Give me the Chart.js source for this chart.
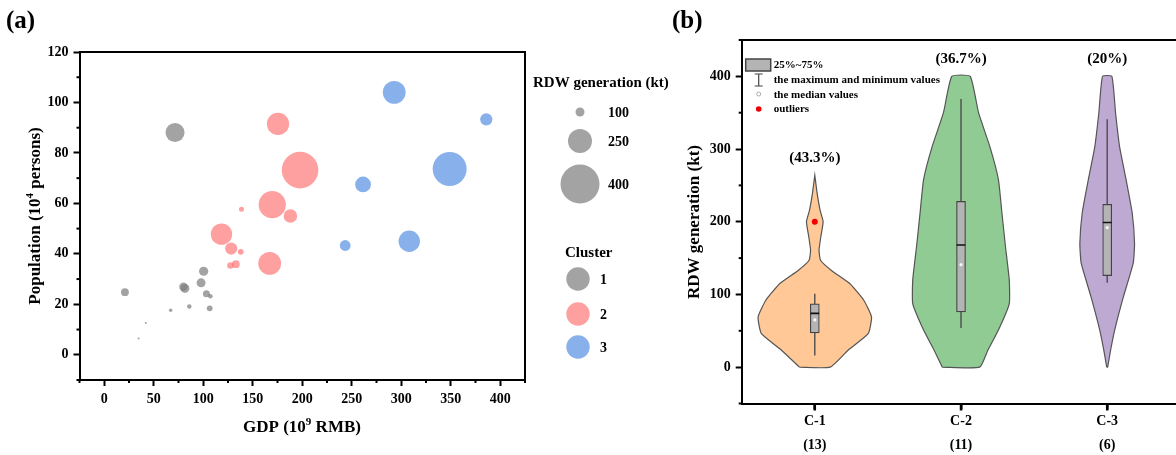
<!DOCTYPE html>
<html>
<head>
<meta charset="utf-8">
<script src="https://cdn.jsdelivr.net/npm/chart.js@4.4.1/dist/chart.umd.min.js"></script>
<style>
  html, body { margin: 0; padding: 0; background: #fff; overflow: hidden; }
  body { width: 1176px; height: 455px; position: relative; }
  #chartA { position: absolute; left: 0; top: 0; }
  #chartB { position: absolute; left: 640px; top: 0; }
</style>
</head>
<body>
<canvas id="chartA" width="700" height="455"></canvas>
<canvas id="chartB" width="560" height="455"></canvas>
<script>
// --- Panel (a) data: GDP (10^9 RMB), population (10^4 persons), RDW generation (kt) ---
const gdpC1 = [71.5, 20.9, 80, 81.5, 100.4, 97.8, 103.2, 107.2, 106.5, 85.9, 67.1, 41.9, 34.7];
const popC1 = [88.1, 24.8, 27, 26.3, 33.1, 28.5, 24.2, 23.2, 18.4, 19.1, 17.6, 12.6, 6.4];
const rdwC1 = [200, 88, 95, 100, 102, 100, 80, 55, 68, 55, 45, 25, 17];

const gdpC2 = [175.5, 197.8, 169.7, 188, 138.6, 118.4, 128.2, 137.9, 167.1, 132.9, 127.4];
const popC2 = [91.5, 73.2, 59.5, 55, 57.7, 47.8, 42.1, 40.8, 36.2, 35.9, 35.4];
const rdwC2 = [232, 376, 282, 146, 60, 224, 132, 68, 238, 88, 74];

const gdpC3 = [292.9, 385.9, 348.9, 261.4, 308.1, 243.4];
const popC3 = [104, 93.3, 73.6, 67.5, 45, 43.3];
const rdwC3 = [238, 132, 350, 168, 224, 118];

const gdpTicks = [0, 50, 100, 150, 200, 250, 300, 350, 400];
const popTicks = [0, 20, 40, 60, 80, 100, 120];
const sizeKeys = [100, 250, 400];
const clusterNames = ["1", "2", "3"];

// --- Panel (b) data: violin outlines (RDW level, half width in category units) ---
const groups = ["C-1", "C-2", "C-3"];
const groupCounts = ["(13)", "(11)", "(6)"];
const groupShares = ["(43.3%)", "(36.7%)", "(20%)"];
const rdwTicks = [0, 100, 200, 300, 400];

const c1Levels = [0, 23, 46, 69, 92, 115, 133, 147, 161, 179, 200, 216, 239, 264];
const c1Widths = [0.105, 0.226, 0.365, 0.388, 0.335, 0.239, 0.114, 0.039, 0.029, 0.041, 0.057, 0.036, 0.016, 0.0];
const c2Levels = [0, 23, 51, 87, 120, 166, 212, 258, 303, 350, 400];
const c2Widths = [0.128, 0.183, 0.256, 0.33, 0.33, 0.304, 0.28, 0.256, 0.198, 0.12, 0.063];
const c3Levels = [0, 23, 51, 97, 143, 170, 212, 258, 303, 350, 400];
const c3Widths = [0.003, 0.023, 0.051, 0.111, 0.178, 0.187, 0.171, 0.129, 0.085, 0.057, 0.032];

const boxMin = [16, 54, 116];
const boxQ1 = [47, 76, 126];
const boxMed = [74, 168, 199];
const boxQ3 = [87, 228, 224];
const boxMax = [101, 369, 341];
const medianDots = [65, 141, 192];
const outlierC1 = [200];

const FONT = "'Liberation Serif', 'Times New Roman', serif";
Chart.defaults.font.family = FONT;
Chart.defaults.font.weight = "bold";
Chart.defaults.color = "#000";

const GRAY = "rgba(124,124,124,0.7)";
const RED = "rgba(255,97,97,0.6)";
const BLUE = "rgba(85,142,225,0.7)";

// bubble radius from RDW value (kt)
const bubbleR = (v) => Math.max(1, v / 20 - 0.5);

function bubbles(gdp, pop, rdw, color) {
  return {
    data: gdp.map((g, i) => ({ x: g, y: pop[i], r: bubbleR(rdw[i]) })),
    backgroundColor: color,
    borderWidth: 0,
    hoverRadius: 0,
  };
}

// --- helpers ---
function richText(ctx, parts, x, y, size, rotate) {
  ctx.save();
  ctx.translate(x, y);
  if (rotate) ctx.rotate(-Math.PI / 2);
  const base = `bold ${size}px ${FONT}`;
  const sup = `bold ${Math.round(size * 0.62)}px ${FONT}`;
  let w = 0;
  parts.forEach((p) => {
    ctx.font = p.sup ? sup : base;
    w += ctx.measureText(p.t).width;
  });
  let cx = -w / 2;
  ctx.textBaseline = "middle";
  ctx.textAlign = "left";
  ctx.fillStyle = "#000";
  parts.forEach((p) => {
    ctx.font = p.sup ? sup : base;
    ctx.fillText(p.t, cx, p.sup ? -size * 0.32 : 0);
    cx += ctx.measureText(p.t).width;
  });
  ctx.restore();
}

function text(ctx, str, x, y, size, align) {
  ctx.save();
  ctx.font = `bold ${size}px ${FONT}`;
  ctx.fillStyle = "#000";
  ctx.textAlign = align || "left";
  ctx.textBaseline = "middle";
  ctx.fillText(str, x, y);
  ctx.restore();
}

// short tick marks at given values, outside the plot area
function tickMarks(chart, axis, vals, len, width) {
  const s = chart.scales[axis];
  const ctx = chart.ctx;
  const a = chart.chartArea;
  ctx.save();
  ctx.strokeStyle = "#000";
  ctx.lineWidth = width || 2;
  vals.forEach((v) => {
    if (v < s.min || v > s.max) return;
    const p = s.getPixelForValue(v);
    ctx.beginPath();
    if (axis === "x") {
      ctx.moveTo(p, a.bottom);
      ctx.lineTo(p, a.bottom + len);
    } else {
      ctx.moveTo(a.left, p);
      ctx.lineTo(a.left - len, p);
    }
    ctx.stroke();
  });
  ctx.restore();
}

function minorTicks(chart, axis, majors, len) {
  const step = majors[1] - majors[0];
  const vals = [majors[0] - step / 2];
  majors.forEach((m) => vals.push(m + step / 2));
  tickMarks(chart, axis, vals, len);
}

function frame(chart) {
  const ctx = chart.ctx;
  const a = chart.chartArea;
  ctx.save();
  ctx.strokeStyle = "#000";
  ctx.lineWidth = 2;
  ctx.beginPath();
  ctx.moveTo(a.left, a.top);
  ctx.lineTo(a.right, a.top);
  ctx.lineTo(a.right, a.bottom);
  ctx.stroke();
  ctx.restore();
}

const axisStyle = {
  grid: { drawOnChartArea: false, drawTicks: true, tickLength: 6, tickWidth: 2, tickColor: "#000", offset: false },
  border: { display: true, width: 2, color: "#000" },
};

// --- Panel (a) decorations ---
const decorA = {
  id: "decorA",
  afterDraw(chart) {
    const ctx = chart.ctx;
    frame(chart);
    minorTicks(chart, "x", gdpTicks, 3);
    minorTicks(chart, "y", popTicks, 3);
    text(ctx, "(a)", 6, 22, 25);
    richText(ctx, [{ t: "Population (10" }, { t: "4", sup: true }, { t: " persons)" }], 36, 216, 17, true);
    richText(ctx, [{ t: "GDP (10" }, { t: "9", sup: true }, { t: " RMB)" }], 302, 428, 17, false);

    // size legend
    text(ctx, "RDW generation (kt)", 533, 83, 15);
    const keyY = [112, 141, 184];
    sizeKeys.forEach((v, i) => {
      ctx.beginPath();
      ctx.fillStyle = GRAY;
      ctx.arc(580, keyY[i], bubbleR(v), 0, Math.PI * 2);
      ctx.fill();
      text(ctx, String(v), 608, keyY[i] + 1, 14);
    });

    // cluster legend
    text(ctx, "Cluster", 565, 253, 15);
    const cols = [GRAY, RED, BLUE];
    const cy = [279, 314, 347];
    clusterNames.forEach((n, i) => {
      ctx.beginPath();
      ctx.fillStyle = cols[i];
      ctx.arc(578, cy[i], 11.7, 0, Math.PI * 2);
      ctx.fill();
      text(ctx, n, 600, cy[i] + 1, 14);
    });
  },
};

new Chart(document.getElementById("chartA"), {
  type: "bubble",
  data: {
    datasets: [
      bubbles(gdpC1, popC1, rdwC1, GRAY),
      bubbles(gdpC2, popC2, rdwC2, RED),
      bubbles(gdpC3, popC3, rdwC3, BLUE),
    ],
  },
  options: {
    responsive: false,
    animation: false,
    layout: { padding: { top: 52, right: 175, left: 0, bottom: 0 } },
    plugins: { legend: { display: false }, tooltip: { enabled: false } },
    scales: {
      x: {
        type: "linear",
        min: -25,
        max: 425,
        afterBuildTicks: (s) => { s.ticks = gdpTicks.map((v) => ({ value: v })); },
        afterFit: (s) => { s.height = 75; },
        ticks: { font: { size: 14, weight: "bold" }, color: "#000", padding: 5, maxRotation: 0 },
        ...axisStyle,
      },
      y: {
        type: "linear",
        min: -10,
        max: 120,
        afterBuildTicks: (s) => { s.ticks = popTicks.map((v) => ({ value: v })); },
        afterFit: (s) => { s.width = 79.5; },
        ticks: { font: { size: 14, weight: "bold" }, color: "#000", padding: 5 },
        ...axisStyle,
      },
    },
  },
  plugins: [decorA],
});

// --- Panel (b) ---
function violin(center, levels, widths, color) {
  const left = levels.map((v, i) => ({ x: center - widths[i], y: v }));
  const right = levels.map((v, i) => ({ x: center + widths[i], y: v })).reverse();
  const pts = left.concat(right);
  pts.push(left[0]);
  return {
    type: "line",
    data: pts,
    backgroundColor: color,
    borderColor: "#555",
    borderWidth: 1.2,
    fill: "shape",
    tension: 0.15,
    pointRadius: 0,
    order: 5,
  };
}

const BOX_HALF = 0.03;
const whiskerPts = [];
const medianPts = [];
groups.forEach((g, i) => {
  const c = i + 1;
  whiskerPts.push({ x: c, y: boxMin[i] }, { x: c, y: boxMax[i] }, { x: c, y: null });
  medianPts.push({ x: c - BOX_HALF, y: boxMed[i] }, { x: c + BOX_HALF, y: boxMed[i] }, { x: c, y: null });
});

const decorB = {
  id: "decorB",
  afterDraw(chart) {
    const ctx = chart.ctx;
    const a = chart.chartArea;
    const xs = chart.scales.x;
    const ys = chart.scales.y;
    frame(chart);
    minorTicks(chart, "y", rdwTicks, 3);
    tickMarks(chart, "x", groups.map((g, i) => i + 1), 7, 2.5);
    text(ctx, "(b)", 32, 22, 25);
    richText(ctx, [{ t: "RDW generation (kt)" }], 55, 222, 17, true);

    // share labels above each violin
    const tops = [c1Levels, c2Levels, c3Levels].map((l) => l[l.length - 1]);
    groupShares.forEach((s, i) => {
      text(ctx, s, xs.getPixelForValue(i + 1), ys.getPixelForValue(tops[i]) - 17, 15, "center");
    });

    // legend box
    const lx = a.left + 4;
    ctx.save();
    ctx.fillStyle = "#b4b4b4";
    ctx.strokeStyle = "#444";
    ctx.lineWidth = 1.5;
    ctx.fillRect(lx, 59, 25, 12);
    ctx.strokeRect(lx, 59, 25, 12);
    const ix = lx + 13;
    ctx.lineWidth = 1.2;
    ctx.beginPath();
    ctx.moveTo(ix - 4, 74); ctx.lineTo(ix + 4, 74);
    ctx.moveTo(ix, 74); ctx.lineTo(ix, 86);
    ctx.moveTo(ix - 4, 86); ctx.lineTo(ix + 4, 86);
    ctx.stroke();
    ctx.beginPath();
    ctx.fillStyle = "#fff";
    ctx.strokeStyle = "#999";
    ctx.lineWidth = 0.8;
    ctx.arc(ix, 94, 2, 0, Math.PI * 2);
    ctx.fill();
    ctx.stroke();
    ctx.beginPath();
    ctx.fillStyle = "#e00";
    ctx.arc(ix, 109, 2.8, 0, Math.PI * 2);
    ctx.fill();
    ctx.restore();
    text(ctx, "25%~75%", lx + 28, 65, 11);
    text(ctx, "the maximum and minimum values", lx + 28, 80, 11);
    text(ctx, "the median values", lx + 28, 95, 11);
    text(ctx, "outliers", lx + 28, 109, 11);
  },
};

new Chart(document.getElementById("chartB"), {
  type: "line",
  data: {
    datasets: [
      violin(1, c1Levels, c1Widths, "#ffc896"),
      violin(2, c2Levels, c2Widths, "#90cb94"),
      violin(3, c3Levels, c3Widths, "#bea9d2"),
      {
        type: "line",
        data: whiskerPts,
        borderColor: "#444",
        borderWidth: 1.3,
        pointRadius: 0,
        spanGaps: false,
        fill: false,
        order: 4,
      },
      {
        type: "bar",
        data: groups.map((g, i) => ({ x: i + 1, y: [boxQ1[i], boxQ3[i]] })),
        backgroundColor: "#b4b4b4",
        borderColor: "#444",
        borderWidth: 1.2,
        borderSkipped: false,
        barThickness: 9,
        grouped: false,
        order: 3,
      },
      {
        type: "line",
        data: medianPts,
        borderColor: "#111",
        borderWidth: 1.6,
        pointRadius: 0,
        spanGaps: false,
        fill: false,
        order: 2,
      },
      {
        type: "scatter",
        data: medianDots.map((v, i) => ({ x: i + 1, y: v })),
        pointRadius: 1.6,
        pointBackgroundColor: "#fff",
        pointBorderColor: "#ccc",
        pointBorderWidth: 0.5,
        order: 1,
      },
      {
        type: "scatter",
        data: outlierC1.map((v) => ({ x: 1, y: v })),
        pointRadius: 3,
        pointBackgroundColor: "#e00",
        pointBorderWidth: 0,
        order: 0,
      },
    ],
  },
  options: {
    responsive: false,
    animation: false,
    layout: { padding: { top: 40, right: 19.7, left: 0, bottom: 0 } },
    plugins: { legend: { display: false }, tooltip: { enabled: false } },
    scales: {
      x: {
        type: "linear",
        min: 0.5,
        max: 3.5,
        offset: false,
        afterBuildTicks: (s) => { s.ticks = groups.map((g, i) => ({ value: i + 1 })); },
        afterFit: (s) => { s.height = 51.5; },
        ticks: {
          font: { size: 14, weight: "bold", lineHeight: 1.72 },
          color: "#000",
          padding: 0,
          maxRotation: 0,
          callback: (v) => [groups[v - 1], groupCounts[v - 1]],
        },
        ...axisStyle,
      },
      y: {
        type: "linear",
        min: -50,
        max: 450,
        afterBuildTicks: (s) => { s.ticks = rdwTicks.map((v) => ({ value: v })); },
        afterFit: (s) => { s.width = 101.7; },
        ticks: { font: { size: 14, weight: "bold" }, color: "#000", padding: 5 },
        ...axisStyle,
      },
    },
  },
  plugins: [decorB],
});
</script>
</body>
</html>
